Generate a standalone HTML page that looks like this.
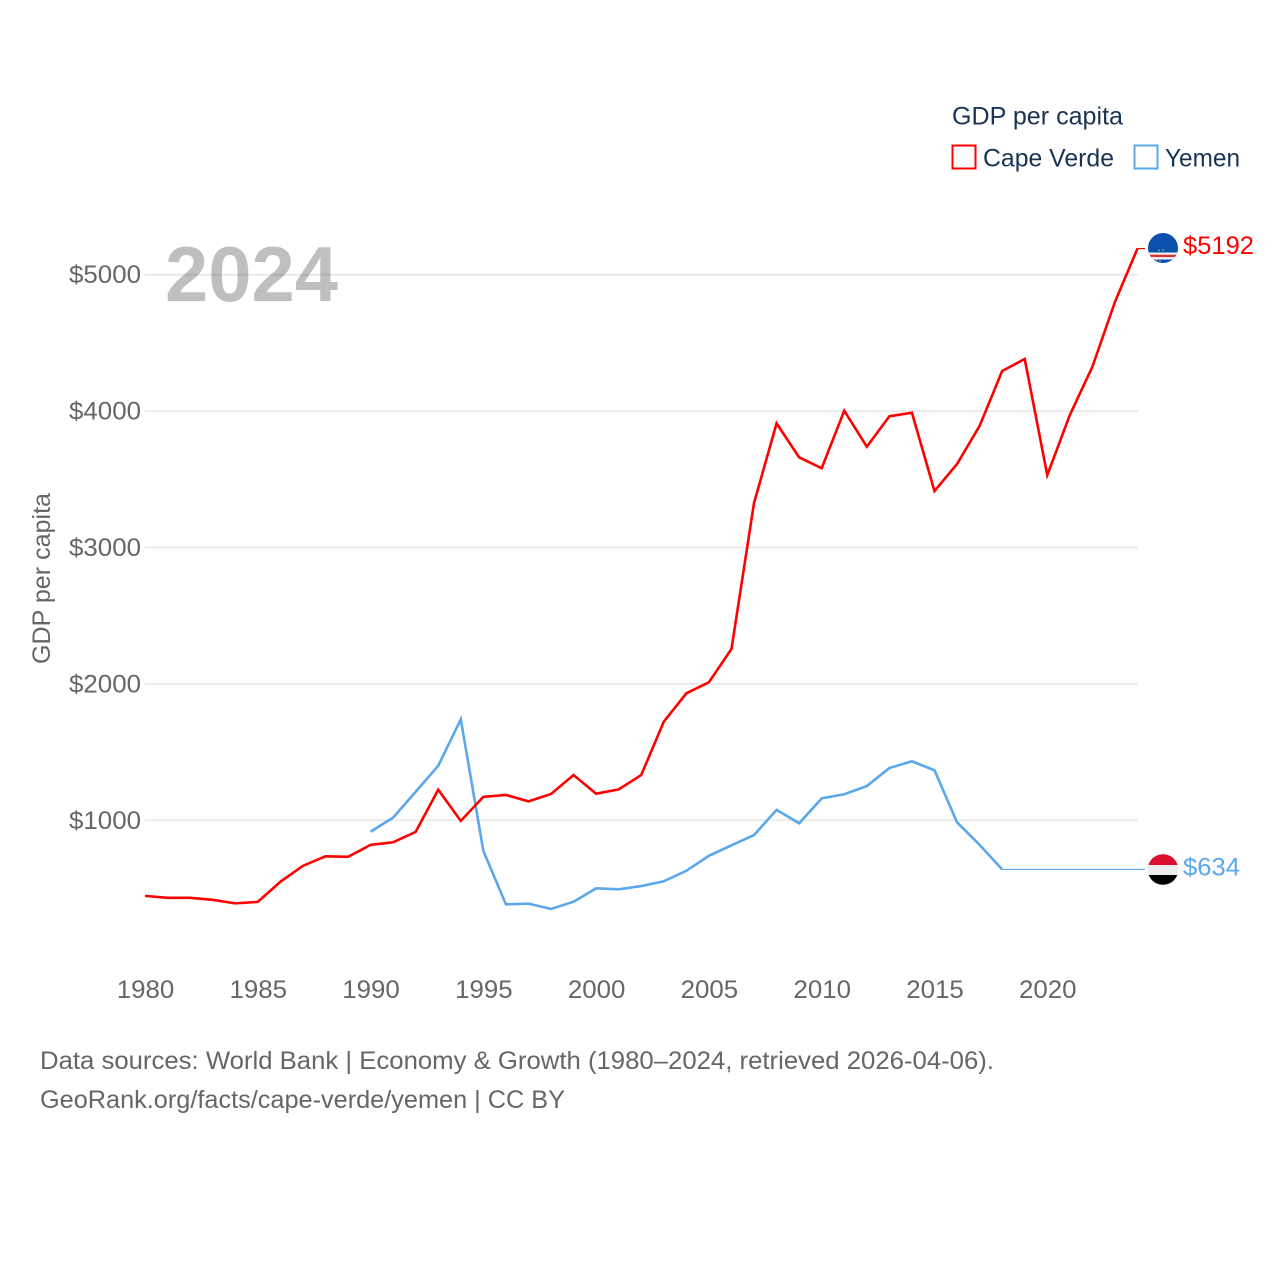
<!DOCTYPE html>
<html lang="en">
<head>
<meta charset="utf-8">
<title>GDP per capita: Cape Verde and Yemen</title>
<style>
html,body{margin:0;padding:0;background:#fff;}
svg{display:block;}
text{font-family:"Liberation Sans",sans-serif;}
</style>
</head>
<body>
<svg id="chart" xmlns="http://www.w3.org/2000/svg" width="1280" height="1280" viewBox="0 0 1280 1280">
  <defs>
    <clipPath id="flag-clip-cv"><circle cx="1163" cy="248" r="15"/></clipPath>
    <clipPath id="flag-clip-ye"><circle cx="1163" cy="869.5" r="15.3"/></clipPath>
  </defs>
  <g id="grid"></g>
  <g id="ylabels"></g>
  <g id="xlabels"></g>
  <text x="165" y="301" font-size="78" font-weight="700" fill="#000" fill-opacity="0.25" textLength="173" lengthAdjust="spacingAndGlyphs">2024</text>
  <text transform="translate(50,664) rotate(-90)" font-size="25" fill="#666" textLength="171" lengthAdjust="spacingAndGlyphs">GDP per capita</text>
  <g id="series"></g>

  <g>
    <text x="952" y="124.5" font-size="25" fill="#1a3353" textLength="171" lengthAdjust="spacingAndGlyphs">GDP per capita</text>
    <g>
      <rect x="952.5" y="145.5" width="23" height="23" fill="none" stroke="#ff0000" stroke-width="2"/>
      <text x="983" y="166.5" font-size="25" fill="#1a3353" textLength="131" lengthAdjust="spacingAndGlyphs">Cape Verde</text>
    </g>
    <g>
      <rect x="1134.5" y="145.5" width="23" height="23" fill="none" stroke="#5ba7ec" stroke-width="2"/>
      <text x="1165" y="166.5" font-size="25" fill="#1a3353" textLength="75" lengthAdjust="spacingAndGlyphs">Yemen</text>
    </g>
  </g>

  <g clip-path="url(#flag-clip-cv)">
    <rect x="1147" y="232" width="32" height="32" fill="#0a50ac"/>
    <rect x="1147" y="252.5" width="32" height="7" fill="#f2f2f2"/>
    <rect x="1147" y="254.7" width="32" height="2.4" fill="#d8323c"/>
    <circle cx="1159" cy="250.5" r="0.7" fill="#e8cf6a"/>
    <circle cx="1163" cy="250" r="0.7" fill="#e8cf6a"/>
    <circle cx="1156.5" cy="254" r="0.7" fill="#e8cf6a"/>
    <circle cx="1156.5" cy="260" r="0.7" fill="#e8cf6a"/>
    <circle cx="1160" cy="261" r="0.7" fill="#e8cf6a"/>
  </g>
  <g clip-path="url(#flag-clip-ye)">
    <rect x="1147" y="854" width="32" height="11" fill="#dc0f2e"/>
    <rect x="1147" y="865" width="32" height="10" fill="#ececec"/>
    <rect x="1147" y="875" width="32" height="11" fill="#000"/>
  </g>

  <text x="1183" y="254" font-size="25" fill="#ff0000" textLength="71" lengthAdjust="spacingAndGlyphs">$5192</text>
  <text x="1183" y="875.5" font-size="25" fill="#5ba7ec" textLength="57" lengthAdjust="spacingAndGlyphs">$634</text>

  <text x="40" y="1069" font-size="25" fill="#666" textLength="954" lengthAdjust="spacingAndGlyphs">Data sources: World Bank | Economy &amp; Growth (1980–2024, retrieved 2026-04-06).</text>
  <text x="40" y="1108" font-size="25" fill="#666" textLength="525" lengthAdjust="spacingAndGlyphs">GeoRank.org/facts/cape-verde/yemen | CC BY</text>
</svg>
<script>
const years = [1980,1981,1982,1983,1984,1985,1986,1987,1988,1989,1990,1991,1992,1993,1994,1995,1996,1997,1998,1999,2000,2001,2002,2003,2004,2005,2006,2007,2008,2009,2010,2011,2012,2013,2014,2015,2016,2017,2018,2019,2020,2021,2022,2023,2024];
const capeVerde = [446,432,432,417,391,402,549,666,736,732,820,839,915,1224,996,1172,1186,1139,1193,1332,1195,1227,1332,1723,1931,2012,2256,3326,3910,3661,3581,4003,3739,3962,3988,3414,3612,3891,4294,4382,3531,3971,4325,4800,5192];
const yemen = [null,null,null,null,null,null,null,null,null,null,916,1020,1209,1400,1740,776,384,389,350,403,501,494,518,553,630,740,817,892,1076,978,1161,1191,1251,1383,1433,1367,985,820,640,null,null,null,null,null,null];
const yTicks = [1000,2000,3000,4000,5000];
const yTickLabels = ["$1000","$2000","$3000","$4000","$5000"];
const xTicks = [1980,1985,1990,1995,2000,2005,2010,2015,2020];
const xTickLabels = ["1980","1985","1990","1995","2000","2005","2010","2015","2020"];

const NS = 'http://www.w3.org/2000/svg';
const plotLeft = 145, plotRight = 1137.5, connectorEnd = 1145;
const gridLeft = 144.5, gridRight = 1138;
const xScale = function (yr) { return plotLeft + (yr - 1980) * (plotRight - plotLeft) / 44; };
const yScale = function (v) { return 956.7 - v * 0.1364; };

const gridGroup = document.getElementById('grid');
const yGroup = document.getElementById('ylabels');
const xGroup = document.getElementById('xlabels');
const seriesGroup = document.getElementById('series');

yTicks.forEach(function (t, i) {
  const ln = document.createElementNS(NS, 'line');
  
  
  ln.setAttribute('x1', gridLeft);
  ln.setAttribute('x2', gridRight);
  ln.setAttribute('y1', yScale(t));
  ln.setAttribute('y2', yScale(t));
  ln.setAttribute('stroke', '#ebebeb');
  ln.setAttribute('stroke-width', '2');
  gridGroup.appendChild(ln);

  const lb = document.createElementNS(NS, 'text');
  
  
  lb.setAttribute('x', 69);
  lb.setAttribute('y', yScale(t) + 8.5);
  lb.setAttribute('font-size', '25');
  lb.setAttribute('fill', '#666');
  lb.setAttribute('textLength', '72');
  lb.setAttribute('lengthAdjust', 'spacingAndGlyphs');
  lb.textContent = yTickLabels[i];
  yGroup.appendChild(lb);
});

xTicks.forEach(function (t, i) {
  const lb = document.createElementNS(NS, 'text');
  
  
  lb.setAttribute('x', xScale(t) - 28.25);
  lb.setAttribute('y', 998);
  lb.setAttribute('font-size', '25');
  lb.setAttribute('fill', '#666');
  lb.setAttribute('textLength', '57.5');
  lb.setAttribute('lengthAdjust', 'spacingAndGlyphs');
  lb.textContent = xTickLabels[i];
  xGroup.appendChild(lb);
});

function linePath(values) {
  let d = '';
  values.forEach(function (v, i) {
    if (v === null) return;
    d += (d ? 'L' : 'M') + xScale(years[i]).toFixed(2) + ' ' + yScale(v).toFixed(2);
  });
  return d;
}
function lastPoint(values) {
  for (let i = values.length - 1; i >= 0; i--) {
    if (values[i] !== null) return [xScale(years[i]), yScale(values[i])];
  }
  return [plotRight, 0];
}

const yemenLine = document.createElementNS(NS, 'path');


yemenLine.setAttribute('d', linePath(yemen));
yemenLine.setAttribute('fill', 'none');
yemenLine.setAttribute('stroke', '#5ba7ec');
yemenLine.setAttribute('stroke-width', '2.6');
yemenLine.setAttribute('stroke-linejoin', 'miter');
seriesGroup.appendChild(yemenLine);

const capeLine = document.createElementNS(NS, 'path');


capeLine.setAttribute('d', linePath(capeVerde));
capeLine.setAttribute('fill', 'none');
capeLine.setAttribute('stroke', '#ff0000');
capeLine.setAttribute('stroke-width', '2.6');
capeLine.setAttribute('stroke-linejoin', 'miter');
seriesGroup.appendChild(capeLine);

const yemenEnd = lastPoint(yemen);
const yemenConn = document.createElementNS(NS, 'line');


yemenConn.setAttribute('x1', yemenEnd[0]);
yemenConn.setAttribute('x2', connectorEnd);
yemenConn.setAttribute('y1', yemenEnd[1]);
yemenConn.setAttribute('y2', yemenEnd[1]);
yemenConn.setAttribute('stroke', '#5ba7ec');
yemenConn.setAttribute('stroke-width', '1.1');
seriesGroup.appendChild(yemenConn);

const capeEnd = lastPoint(capeVerde);
const capeConn = document.createElementNS(NS, 'line');


capeConn.setAttribute('x1', capeEnd[0]);
capeConn.setAttribute('x2', connectorEnd);
capeConn.setAttribute('y1', capeEnd[1]);
capeConn.setAttribute('y2', capeEnd[1]);
capeConn.setAttribute('stroke', '#ff0000');
capeConn.setAttribute('stroke-width', '1.1');
seriesGroup.appendChild(capeConn);
</script>
</body>
</html>
